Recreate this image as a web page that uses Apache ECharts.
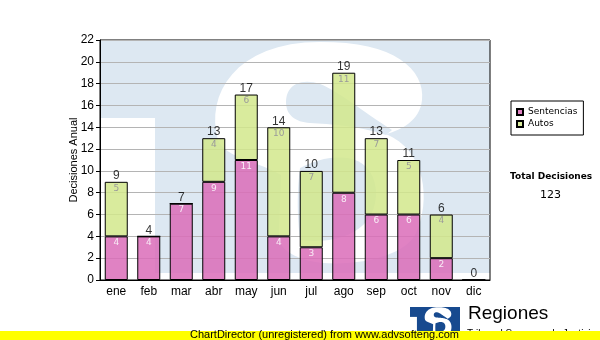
<!DOCTYPE html>
<html>
<head>
<meta charset="utf-8">
<script src="https://cdn.jsdelivr.net/npm/echarts@6/dist/echarts.min.js"></script>
<style>html,body{margin:0;padding:0;background:#fff}#c{width:600px;height:340px}</style>
</head>
<body>
<div id="c"></div>
<script>
const categories = ['ene','feb','mar','abr','may','jun','jul','ago','sep','oct','nov','dic'];
const sentencias = [4,4,7,9,11,4,3,8,6,6,2,0];
const autos = [5,0,0,4,6,10,7,11,7,5,4,0];
const yTicks = {min:0, max:22, interval:2};
const totals = categories.map((c,i)=>sentencias[i]+autos[i]);
const grandTotal = totals.reduce((a,b)=>a+b,0);

// decorative watermark outline (M/C/L/Z path) -> polygon points
function pathToPoints(d){
  const t = d.match(/[MCLZ]|-?\d+(\.\d+)?/g);
  const pts = []; let i=0, cx=0, cy=0, cmd='';
  while(i<t.length){
    if(/[MCLZ]/.test(t[i])){ cmd=t[i++]; if(cmd==='Z') continue; }
    if(cmd==='M'||cmd==='L'){ cx=+t[i]; cy=+t[i+1]; i+=2; pts.push([cx,cy]); }
    else if(cmd==='C'){
      const x1=+t[i],y1=+t[i+1],x2=+t[i+2],y2=+t[i+3],x3=+t[i+4],y3=+t[i+5]; i+=6;
      for(let k=1;k<=16;k++){ const u=k/16, v=1-u;
        pts.push([v*v*v*cx+3*v*v*u*x1+3*v*u*u*x2+u*u*u*x3, v*v*v*cy+3*v*v*u*y1+3*v*u*u*y2+u*u*u*y3]); }
      cx=x3; cy=y3;
    } else i++;
  }
  return pts;
}
const sOuter = 'M218 140 C205 95 235 42 320 42 C395 41 425 70 422 100 C420 120 402 130 386 134 C425 150 432 200 415 235 C400 262 330 270 300 258 C285 252 279 245 279 235 L281 175 C260 162 225 158 218 140 Z';
const sTop = 'M286 102 C286 84 302 78 320 84 C340 92 360 110 392 130 L386 135 C360 126 330 124 310 123 C295 122 286 115 286 102 Z';
const sLow = 'M300 168 C330 152 372 150 376 190 C378 230 340 245 300 240 C297 215 297 190 300 168 Z';

function logo(tx, ty, s, blue, z){
  return {
    type:'group', x:tx, y:ty, scaleX:s, scaleY:s, silent:true,
    children:[{
      type:'group', x:-101, y:-41,
      children:[
        {type:'rect', z:z, shape:{x:101,y:41,width:389,height:232}, style:{fill:blue}},
        {type:'rect', z:z, shape:{x:101,y:118,width:54,height:155}, style:{fill:'#fff'}},
        {type:'polygon', z:z, shape:{points:pathToPoints(sOuter)}, style:{fill:'#fff'}},
        {type:'polygon', z:z, shape:{points:pathToPoints(sTop)}, style:{fill:blue}},
        {type:'polygon', z:z, shape:{points:pathToPoints(sLow)}, style:{fill:blue}}
      ]
    }]
  };
}

const chart = echarts.init(document.getElementById('c'), null, {renderer:'canvas'});
const pink = 'rgba(218,108,184,0.85)';
const green = 'rgba(210,232,140,0.85)';
chart.setOption({
  animation:false,
  textStyle:{fontFamily:'Liberation Sans'},
  grid:{left:100, top:40, width:390, height:240, show:true, borderColor:'#000', borderWidth:1, backgroundColor:'transparent'},
  legend:{
    data:['Sentencias','Autos'], orient:'vertical', left:511, top:101,
    borderColor:'#000', borderWidth:1, padding:[5,6,5,5],
    itemWidth:6, itemHeight:6, itemGap:0, icon:'rect',
    textStyle:{fontFamily:'DejaVu Sans', fontSize:9, color:'#000', lineHeight:12}
  },
  xAxis:{
    type:'category', data:categories,
    axisLine:{lineStyle:{color:'#000'}},
    axisTick:{alignWithLabel:true, length:4, lineStyle:{color:'#000'}},
    axisLabel:{color:'#000', fontSize:12, margin:6, fontFamily:'Liberation Sans'}
  },
  yAxis:{
    type:'value', min:yTicks.min, max:yTicks.max, interval:yTicks.interval,
    name:'Decisiones Anual', nameLocation:'middle', nameGap:21, nameRotate:90, nameMoveOverlap:false,
    nameTextStyle:{color:'#000', fontSize:11, fontFamily:'Liberation Sans'},
    axisLine:{show:true, lineStyle:{color:'#000'}},
    axisTick:{show:true, length:4, lineStyle:{color:'#000'}},
    axisLabel:{color:'#000', fontSize:12, margin:6, fontFamily:'Liberation Sans'},
    splitLine:{lineStyle:{color:'#b4b4b4'}}
  },
  series:[
    {name:'Sentencias', type:'bar', stack:'a', data:sentencias, barWidth:23,
     itemStyle:{color:pink, borderColor:'#000', borderWidth:1},
     label:{show:true, position:'insideTop', distance:2, fontSize:9, fontFamily:'DejaVu Sans', color:'#f8ecf6',
       formatter:p=>p.value?String(p.value):''}},
    {name:'Autos', type:'bar', stack:'a', data:autos, barWidth:23,
     itemStyle:{color:green, borderColor:'#000', borderWidth:1},
     label:{show:true, position:'insideTop', distance:2, fontSize:9, fontFamily:'DejaVu Sans', color:'#9a9a9a',
       formatter:p=>p.value?String(p.value):''}},
    {name:'Total', type:'scatter', data:totals, symbolSize:0, silent:true,
     label:{show:true, position:'top', distance:0, fontSize:12, fontFamily:'Liberation Sans', color:'#000',
       formatter:p=>String(p.value)}}
  ],
  graphic:[
    logo(101, 41, 1, '#dde8f2', -10),
    logo(410, 307, 50/389, '#174a8f', 50),
    {type:'text', z:50, left:468, top:304, style:{text:'Regiones', fill:'#000', font:'19px "Liberation Sans"'}},
    {type:'text', z:50, left:467, top:329, style:{text:'Tribunal Supremo de Justicia', fill:'#000', font:'10px "Liberation Sans"'}},
    {type:'rect', z:60, shape:{x:0,y:331,width:600,height:9}, style:{fill:'#ffff00'}},
    {type:'text', z:61, left:190, top:329, style:{text:'ChartDirector (unregistered) from www.advsofteng.com', fill:'#000', font:'11px "Liberation Sans"'}},
    {type:'text', z:50, left:510, top:172, style:{text:'Total Decisiones', fill:'#000', font:'bold 9px "DejaVu Sans"'}},
    {type:'text', z:50, left:540, top:190, style:{text:String(grandTotal), fill:'#000', font:'11px "DejaVu Sans"'}}
  ]
});
</script>
</body>
</html>
